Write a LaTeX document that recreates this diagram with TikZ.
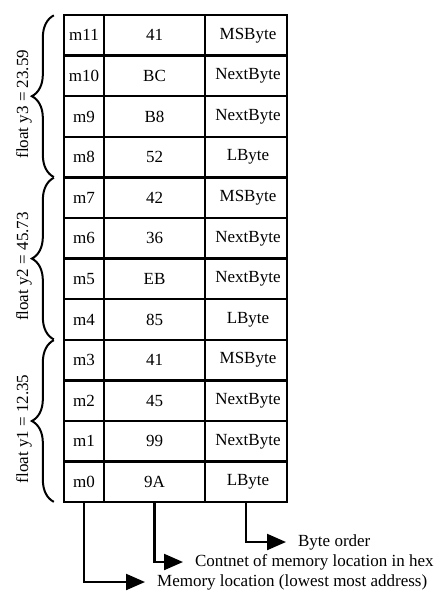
\documentclass[tikz,border=0pt]{standalone}
\usepackage{fontspec}
\setmainfont{Liberation Serif}
\usetikzlibrary{arrows.meta,decorations.pathreplacing,calc}
\begin{document}
\begin{tikzpicture}[x=1pt,y=-1pt,line width=2.3pt,
  txt/.style={font=\fontsize{17}{20}\selectfont},
  cell/.style={txt,draw,minimum height=40.6pt,inner sep=0pt,anchor=center},
  lbl/.style={txt,anchor=west,inner xsep=11pt,inner ysep=0pt},
  arr/.style={line width=2.2pt,-{Triangle[length=19pt,width=16pt]}},
  brc/.style={line width=2pt,decorate,decoration={brace,amplitude=22pt}}]
\useasboundingbox (0,0) rectangle (445,603);
\foreach \a/\b/\c [count=\i from 0] in {11/41/MSByte,10/BC/NextByte,9/B8/NextByte,8/52/LByte,
  7/42/MSByte,6/36/NextByte,5/EB/NextByte,4/85/LByte,
  3/41/MSByte,2/45/NextByte,1/99/NextByte,0/9A/LByte}{
  \node[cell,minimum width=40pt] (a\a) at (84,{15+40.6*(\i+0.5)}) {m\a};
  \node[cell,minimum width=101pt] (b\a) at (154.5,{15+40.6*(\i+0.5)}) {\b};
  \node[cell,minimum width=82pt] (c\a) at (246,{15+40.6*(\i+0.5)}) {\hspace{4pt}\c};
}
% braces
\draw[brc] ($(a8.south west)+(-9,-1.5)$) -- ($(a11.north west)+(-9,1.5)$) coordinate[midway] (m3);
\draw[brc] ($(a4.south west)+(-9,-1.5)$) -- ($(a7.north west)+(-9,1.5)$) coordinate[midway] (m2);
\draw[brc] ($(a0.south west)+(-9,-1.5)$) -- ($(a3.north west)+(-9,1.5)$) coordinate[midway] (m1);
\node[txt,rotate=90] (f3) at ($(m3)+(-30,8)$) {float y3 = 23.59};
\node[txt,rotate=90] (f2) at ($(m2)+(-30,8)$) {float y2 = 45.73};
\node[txt,rotate=90] (f1) at ($(m1)+(-30,8)$) {float y1 = 12.35};
% legend
\node[lbl] (bo) at (286,542) {Byte order};
\node[lbl] (co) at (183,562) {Contnet of memory location in hex};
\node[lbl] (ml) at (145,582) {Memory location (lowest most address)};
\draw[arr] (c0.south) |- (bo.west);
\draw[arr] (b0.south) |- (co.west);
\draw[arr] (a0.south) |- (ml.west);
\end{tikzpicture}
\end{document}
